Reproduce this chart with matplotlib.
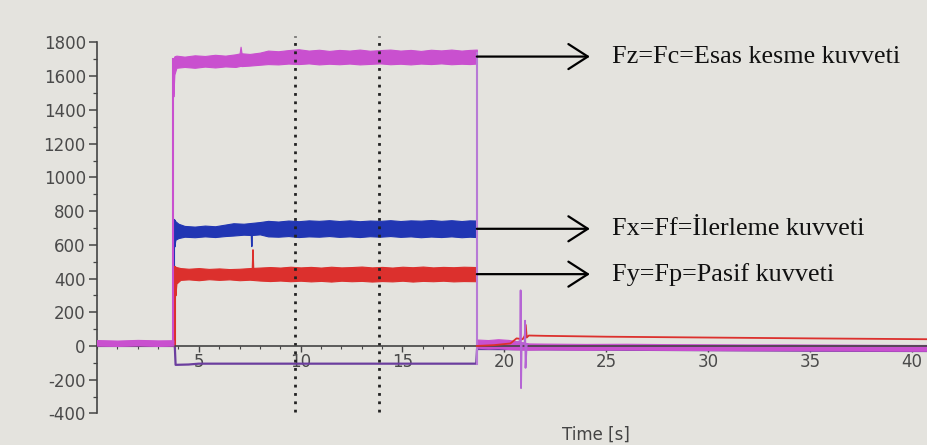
import numpy as np
import matplotlib.pyplot as plt
from matplotlib.ticker import MultipleLocator

plt.rcParams['axes.unicode_minus'] = False

# cut start / end [s]
t_on = 3.75
t_off = 18.65

# Fz = Fc (magenta), noise band read as lower / upper envelope
fz_t = [3.75, 3.8, 3.9, 4.3, 4.8, 5.3, 5.8, 6.3, 6.8, 7.0, 7.05, 7.1, 7.5, 8.0, 8.4, 8.9,
        9.4, 9.9, 10.4, 10.9, 11.4, 11.9, 12.4, 12.9, 13.4, 13.9, 14.4, 14.9, 15.4, 15.9,
        16.4, 16.9, 17.4, 17.9, 18.3, 18.65]
fz_lo = [1480, 1610, 1650, 1655, 1650, 1657, 1652, 1658, 1655, 1660, 1662, 1660, 1663, 1668,
         1672, 1670, 1675, 1672, 1676, 1670, 1674, 1671, 1675, 1670, 1673, 1676, 1671, 1674,
         1670, 1675, 1672, 1676, 1671, 1674, 1672, 1675]
fz_hi = [1700, 1718, 1722, 1716, 1724, 1720, 1727, 1722, 1730, 1735, 1775, 1736, 1732, 1740,
         1752, 1748, 1755, 1760, 1752, 1757, 1750, 1756, 1752, 1758, 1751, 1755, 1758, 1752,
         1756, 1750, 1757, 1753, 1758, 1752, 1756, 1758]

# Fx = Ff (blue)
fx_t = [3.8, 3.85, 4.0, 4.3, 4.8, 5.3, 5.8, 6.3, 6.7, 7.2, 7.6, 8.0, 8.4, 8.9, 9.4, 9.9,
        10.4, 10.9, 11.4, 11.9, 12.4, 12.9, 13.4, 13.9, 14.4, 14.9, 15.4, 15.9, 16.4, 16.9,
        17.4, 17.9, 18.3, 18.65]
fx_lo = [590, 630, 640, 648, 645, 650, 646, 652, 655, 660, 658, 662, 650, 648, 652, 646,
         650, 648, 652, 647, 650, 646, 651, 648, 652, 647, 650, 645, 649, 646, 650, 645,
         648, 646]
fx_hi = [750, 740, 725, 712, 708, 714, 710, 720, 728, 725, 730, 735, 742, 738, 744, 740,
         745, 742, 746, 741, 745, 740, 744, 742, 746, 741, 745, 743, 747, 742, 746, 741,
         745, 744]

# Fy = Fp (red)
fy_t = [3.85, 3.9, 4.1, 4.5, 5.0, 5.5, 6.0, 6.5, 7.0, 7.5, 8.0, 8.5, 9.0, 9.5, 10.0, 10.5,
        11.0, 11.5, 12.0, 12.5, 13.0, 13.5, 14.0, 14.5, 15.0, 15.5, 16.0, 16.5, 17.0, 17.5,
        18.0, 18.65]
fy_lo = [300, 370, 392, 395, 390, 396, 392, 395, 390, 393, 388, 385, 388, 384, 387, 383,
         386, 382, 387, 384, 386, 382, 385, 383, 387, 382, 386, 384, 387, 383, 385, 384]
fy_hi = [470, 468, 462, 458, 462, 457, 460, 456, 458, 462, 465, 468, 465, 470, 466, 469,
         465, 470, 466, 468, 471, 466, 469, 465, 470, 467, 471, 466, 469, 467, 470, 468]

# short spikes at t = 7.6 s
fx_spike_t = [7.58, 7.6, 7.62]
fx_spike_v = [660, 590, 660]
fy_spike_t = [7.63, 7.66, 7.69]
fy_spike_v = [460, 570, 460]

# before the cut
pre_t = [0, 1, 2, 3, 3.75]
pre_lo = [2, 0, 3, 0, 2]
pre_hi = [35, 32, 36, 33, 34]

# fourth channel (purple)
pu_t = [0, 3.82, 3.86, 4.5, 5.0, 18.62, 18.66, 25, 30, 35, 40.8]
pu_v = [0, 0, -112, -110, -105, -105, -18, -22, -25, -28, -30]

# after the cut
post_t = [18.7, 19.2, 19.7, 20.2, 20.5, 21.2, 22, 24, 26, 28, 30, 32, 34, 36, 38, 40, 40.8]
post_lo = [-10, -15, -12, -18, -20, -22, -20, -22, -21, -23, -24, -25, -25, -26, -27, -28, -28]
post_hi = [38, 35, 40, 36, 30, 15, 14, 12, 13, 11, 10, 9, 9, 8, 7, 6, 6]

red_post_t = [18.65, 19.5, 20.3, 20.6, 20.9, 21.0, 21.05, 21.1, 21.2, 22, 25, 30, 35, 40.8]
red_post_v = [0, 5, 15, 45, 40, 60, 125, 50, 62, 60, 55, 50, 45, 40]

spike_t = [20.6, 20.78, 20.8, 20.82, 20.85, 21.0, 21.02, 21.04, 21.1]
spike_v = [20, 30, 330, -250, 10, 20, 150, -130, 10]

# dotted markers
marker_t = [9.7, 13.85]

labels = ["Fz=Fc=Esas kesme kuvveti", "Fx=Ff=İlerleme kuvveti", "Fy=Fp=Pasif kuvveti"]

c_fz = '#c950cf'
c_fx = '#2136b3'
c_fy = '#dc302d'
c_pu = '#6b3e9e'
bg = '#e4e3de'

fig = plt.figure(figsize=(9.28, 4.45), dpi=100, facecolor=bg)
ax = fig.add_axes([0.1045, 0.071, 0.8955, 0.8335], facecolor=bg)

# purple channel
ax.plot(pu_t, pu_v, color=c_pu, lw=1.6, zorder=2)

# blue and red
ax.plot([t_on + 0.05, t_on + 0.05], [0, 745], color=c_fx, lw=1.5)
ax.fill_between(fx_t, fx_lo, fx_hi, color=c_fx, lw=0.8)
ax.plot(fx_spike_t, fx_spike_v, color=c_fx, lw=1)
ax.plot([t_on + 0.1, t_on + 0.1], [0, 470], color=c_fy, lw=1.5)
ax.fill_between(fy_t, fy_lo, fy_hi, color=c_fy, lw=0.8)
ax.plot(fy_spike_t, fy_spike_v, color=c_fy, lw=1)
ax.plot(red_post_t, red_post_v, color=c_fy, lw=1.3, zorder=3)

# magenta
ax.fill_between(pre_t, pre_lo, pre_hi, color=c_fz, lw=0.8, zorder=3)
ax.plot([t_on, t_on], [20, 1700], color=c_fz, lw=1.5)
ax.fill_between(fz_t, fz_lo, fz_hi, color=c_fz, lw=0.8)
ax.plot([t_off, t_off], [1740, -105], color='#b77ad6', lw=1.5)
ax.fill_between(post_t, post_lo, post_hi, color=c_fz, lw=0.8, zorder=2)
ax.plot(spike_t, spike_v, color='#b565d4', lw=1.3, zorder=3)

for t in marker_t:
    ax.plot([t, t], [-390, 1840], color='#222222', ls=(0, (1, 2)), lw=2, clip_on=False)

# arrows + texts
ends = [(fz_lo[-1] + fz_hi[-1]) / 2, (fx_lo[-1] + fx_hi[-1]) / 2, (fy_lo[-1] + fy_hi[-1]) / 2]
for lab, y in zip(labels, ends):
    ax.annotate('', xy=(24.2, y), xytext=(t_off, y),
                arrowprops=dict(arrowstyle='->,head_length=0.7,head_width=0.45',
                                mutation_scale=20, lw=1.6, color='black',
                                shrinkA=0, shrinkB=0))
    ax.text(25.3, y, lab, ha='left', va='center', fontsize=18.8,
            family=['Liberation Serif', 'DejaVu Serif'], color='#111111')

ax.set_xlim(0, 40.8)
ax.set_ylim(-400, 1800)
ax.spines['top'].set_visible(False)
ax.spines['right'].set_visible(False)
ax.spines['bottom'].set_position(('data', 0))
for s in ['left', 'bottom']:
    ax.spines[s].set_color('#444444')
    ax.spines[s].set_linewidth(1.2)

ax.set_xticks([5, 10, 15, 20, 25, 30, 35, 40])
ax.xaxis.set_minor_locator(MultipleLocator(1))
ax.set_yticks(np.arange(-400, 1801, 200))
ax.yaxis.set_minor_locator(MultipleLocator(100))
ax.tick_params(axis='both', colors='#444444', labelcolor='#4a4a4a', labelsize=12)
ax.tick_params(axis='y', which='major', length=6, width=1.1, pad=2)
ax.tick_params(axis='y', which='minor', length=3, width=0.9, colors='#444444')
ax.tick_params(axis='x', which='major', length=4, width=1.0, pad=1)
ax.tick_params(axis='x', which='minor', length=2, width=0.8, colors='#444444')

ax.text(24.5, -525, 'Time [s]', ha='center', va='center', fontsize=12,
        color='#444444', clip_on=False)

fig.savefig('out.png', dpi=100, facecolor=bg)
